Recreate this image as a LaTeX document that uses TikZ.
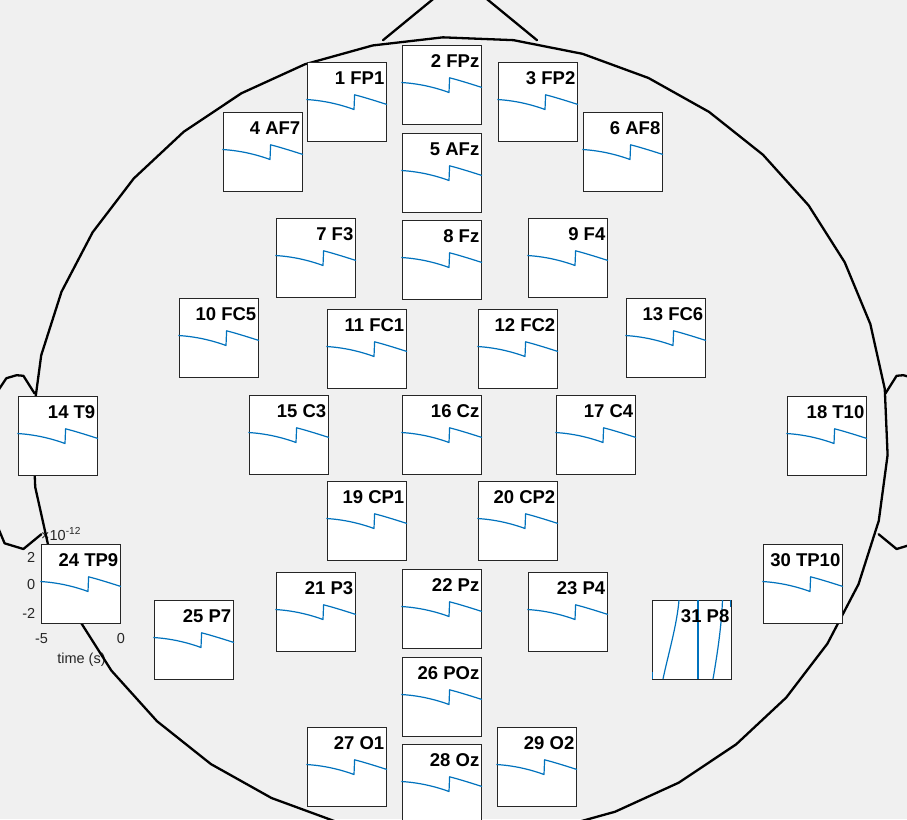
\documentclass[tikz,border=0pt]{standalone}
\usepackage{fontspec}
\setmainfont{Liberation Sans}
\definecolor{bgc}{HTML}{F0F0F0}
\definecolor{boxc}{HTML}{262626}
\definecolor{tracec}{HTML}{0072BD}
\definecolor{axc}{HTML}{262626}
\tikzset{
  elbox/.style={draw=boxc, fill=white, line width=0.8pt, minimum width=79pt, minimum height=79pt, inner sep=0pt, outer sep=0pt},
  trace/.style={draw=tracec, line width=1.2pt, line join=round},
  headline/.style={draw=black, line width=2.3pt, line join=round, line cap=round},
  lab/.style={font=\fontsize{18.5}{20}\selectfont\bfseries, anchor=base east, inner sep=0pt},
  axlab/.style={font=\fontsize{14.5}{16}\selectfont, text=axc, inner sep=0pt},
  wave/.pic={\draw[trace] (-0.7,37.5) .. controls (16,38.5) and (32,42) .. (47,47.5) -- (47.6,32.8) .. controls (58,35.5) and (69,39) .. (80,42.5);},
  bigwave/.pic={
    \draw[trace] (27,0) .. controls (25,25) and (16,55) .. (11,79);
    \draw[trace] (46,0) -- (46,79);
    \draw[trace] (70.5,0) .. controls (69.5,25) and (66,50) .. (61,79);
    \draw[trace] (78.5,0) -- (78.5,7);
    \draw[trace] (0,72) -- (0,79);}
}
\begin{document}
\begin{tikzpicture}[x=1pt, y=-1pt]
\useasboundingbox (0,0) rectangle (907,819);
\fill[bgc] (0,0) rectangle (907,819);

% axis annotation of the TP9 panel
\node[axlab, anchor=base east] (yt1) at (35.5,562) {2};
\node[axlab, anchor=base east] (yt2) at (35.5,589.5) {0};
\node[axlab, anchor=base east] (yt3) at (35.5,618.5) {-2};
\node[axlab, anchor=base] (xt1) at (41.5,643.5) {-5};
\node[axlab, anchor=base] (xt2) at (121,643.5) {0};
\node[axlab, anchor=base] (xl) at (81.5,663) {time (s)};
\node[axlab, anchor=base west] (ex) at (41,540) {×10\textsuperscript{-12}};

% head outline
\draw[headline] plot[samples=39, domain=0:38, variable=\k]
  ({460+428*cos(92.3+9.4737*\k)}, {438-401*sin(92.3+9.4737*\k)}) -- cycle;
\draw[headline] (383,40.2) -- (460,-23) -- (537,40.2);
\draw[headline] (885.4,393.5) -- (896.6,375.8) -- (903.4,375.2) -- (913.6,378.2) -- (923.9,393.5) -- (922.2,442.4) -- (928.2,512.7) -- (915.4,543.3) -- (896.6,549) -- (878.6,534.2);
\draw[headline] (34.6,393.5) -- (23.4,375.8) -- (16.6,375.2) -- (6.4,378.2) -- (-3.9,393.5) -- (-2.2,442.4) -- (-8.2,512.7) -- (4.6,543.3) -- (23.4,549) -- (41.4,534.2);

% channel panels
\foreach \n/\x/\y/\t in {
  1/307/62/1 FP1, 2/402/45/2 FPz, 3/498/62/3 FP2,
  4/223/112/4 AF7, 5/402/133/5 AFz, 6/583/112/6 AF8,
  7/276/218/7 F3, 8/402/220/8 Fz, 9/528/218/9 F4,
  10/179/298/10 FC5, 11/327/309/11 FC1, 12/478/309/12 FC2, 13/626/298/13 FC6,
  14/18/396/14 T9, 15/249/395/15 C3, 16/402/395/16 Cz, 17/556/395/17 C4, 18/787/396/18 T10,
  19/327/481/19 CP1, 20/478/481/20 CP2,
  21/276/572/21 P3, 22/402/569/22 Pz, 23/528/572/23 P4,
  24/41/544/24 TP9, 25/154/600/25 P7, 26/402/657/26 POz,
  27/307/727/27 O1, 28/402/744/28 Oz, 29/497/727/29 O2, 30/763/544/30 TP10}
{
  \node[elbox] (b\n) at (\x+39.5,\y+39.5) {};
  \pic at (b\n.north west) {wave};
  \node[lab] (l\n) at ([shift={(-1.5,22)}]b\n.north east) {\t};
}
\node[elbox] (b31) at (652+39.5,600+39.5) {};
\begin{scope}
  \clip (b31.north west) rectangle (b31.south east);
  \pic at (b31.north west) {bigwave};
\end{scope}
\node[lab] (l31) at ([shift={(-1.5,22)}]b31.north east) {31 P8};
\end{tikzpicture}
\end{document}
